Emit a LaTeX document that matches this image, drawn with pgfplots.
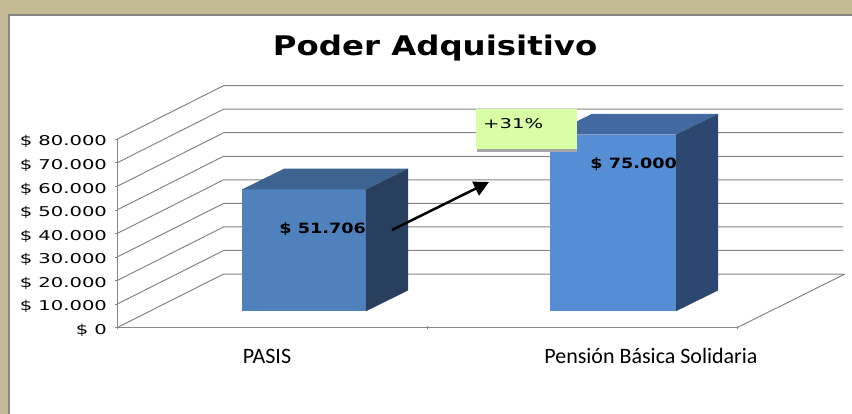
\documentclass[border=0pt]{standalone}
\usepackage{pgfplots}
\pgfplotsset{compat=1.18}
\usepackage{fontspec}
\usetikzlibrary{arrows.meta}
\setmainfont{DejaVu Sans}
\newfontfamily\widef[FakeStretch=1.45]{DejaVu Sans}
\newfontfamily\widebf[FakeStretch=1.2]{DejaVu Sans Bold}
\newfontfamily\widelab[FakeStretch=1.24]{DejaVu Sans Bold}
\newfontfamily\catf{Carlito}
\definecolor{tanbg}{HTML}{C4BB94}
\definecolor{wall}{HTML}{868686}
\definecolor{af}{HTML}{4F81BD}
\definecolor{at}{HTML}{3D6391}
\definecolor{as}{HTML}{283F5E}
\definecolor{bf}{HTML}{558ED5}
\definecolor{bt}{HTML}{426AA0}
\definecolor{bs}{HTML}{2C4770}
\definecolor{note}{HTML}{D8FFA5}
\pgfplotsset{barface/.style={draw=none,forget plot}}
\newcommand\barthreed[6]{%
  \addplot[fill=#4,barface] table[row sep=\\,x expr=\thisrow{x}+\thisrow{d}/8800*42,y expr=\thisrow{v}+\thisrow{d}+7000]{x v d\\ #1 0 0\\ #2 0 0\\ #2 #3 0\\ #1 #3 0\\};
  \addplot[fill=#5,barface] table[row sep=\\,x expr=\thisrow{x}+\thisrow{d}/8800*42,y expr=\thisrow{v}+\thisrow{d}+7000]{x v d\\ #1 #3 0\\ #2 #3 0\\ #2 #3 8800\\ #1 #3 8800\\};
  \addplot[fill=#6,barface] table[row sep=\\,x expr=\thisrow{x}+\thisrow{d}/8800*42,y expr=\thisrow{v}+\thisrow{d}+7000]{x v d\\ #2 0 0\\ #2 #3 0\\ #2 #3 8800\\ #2 0 8800\\};
}
\begin{document}
\begin{tikzpicture}
% background: pixel x - 117, 327.7 - pixel y
\fill[white] (-117pt,327.7pt) rectangle (735pt,-86.3pt);
\fill[tanbg] (-117pt,327.7pt) rectangle (735pt,313.7pt);
\fill[tanbg] (-117pt,327.7pt) rectangle (-109pt,-86.3pt);
\fill[wall] (-109pt,313.7pt) rectangle (735pt,311.7pt);
\fill[wall] (-109pt,313.7pt) rectangle (-107pt,-86.3pt);
\begin{axis}[
  at={(0pt,0pt)}, anchor=south west,
  scale only axis, width=620pt, height=188.4pt,
  xmin=117, xmax=737, ymin=0, ymax=80000,
  clip=false, axis lines=left, axis line style={-,draw=wall,line width=0.9pt},
  unbounded coords=jump,
  scaled y ticks=false,
  tick style={draw=wall,line width=0.8pt},
  major tick length=3pt,
  xtick={117,427,737}, xticklabels={},
  extra x ticks={267,651},
  extra x tick labels={PASIS,Pensión Básica Solidaria},
  extra x tick style={major tick length=0pt,tick label style={font=\catf\fontsize{22}{22}\selectfont,yshift=-18.5pt,text height=14pt,text depth=4pt}},
  ytick={0,10000,20000,30000,40000,50000,60000,70000,80000},
  yticklabels={\$ 0,\$ 10.000,\$ 20.000,\$ 30.000,\$ 40.000,\$ 50.000,\$ 60.000,\$ 70.000,\$ 80.000},
  yticklabel style={font=\widef\fontsize{13.5}{14}\selectfont,xshift=-5pt,yshift=-2.5pt,anchor=east},
  title={\widebf\fontsize{27}{30}\selectfont Poder Adquisitivo},
  title style={at={(0.513,1.455)},anchor=center,inner sep=0pt},
]
% walls
\addplot[draw=wall,line width=1pt,forget plot] coordinates {
 (117,0)(223.7,22800)(843,22800)(843,nan)
 (117,10000)(223.7,32800)(843,32800)(843,nan)
 (117,20000)(223.7,42800)(843,42800)(843,nan)
 (117,30000)(223.7,52800)(843,52800)(843,nan)
 (117,40000)(223.7,62800)(843,62800)(843,nan)
 (117,50000)(223.7,72800)(843,72800)(843,nan)
 (117,60000)(223.7,82800)(843,82800)(843,nan)
 (117,70000)(223.7,92800)(843,92800)(843,nan)
 (117,80000)(223.7,102800)(843,102800)(843,nan)
 (737,0)(845,22800)
};
% bars
\barthreed{242}{366}{51706}{af}{at}{as}
\barthreed{550}{676}{75000}{bf}{bt}{bs}
\node[anchor=east,inner sep=0pt,font=\widelab\fontsize{14.2}{14}\selectfont] at (axis cs:366,42000) {\$ 51.706};
\node[anchor=east,inner sep=0pt,font=\widelab\fontsize{14.2}{14}\selectfont] at (axis cs:677,69500) {\$ 75.000};
% arrow
\addplot[black,line width=2.5pt,-{Triangle[length=15pt,width=15pt]},forget plot] coordinates {(392,41486)(489,61868)};
% note
\fill[black!35] (axis cs:477,80000) rectangle (axis cs:577,74820);
\fill[note] (axis cs:476,92866) rectangle (axis cs:577,75881);
\node[anchor=west,inner sep=0pt,font=\widef\fontsize{13.5}{14}\selectfont] at (axis cs:483,86497) {+31\%};
\end{axis}
\end{tikzpicture}
\end{document}
